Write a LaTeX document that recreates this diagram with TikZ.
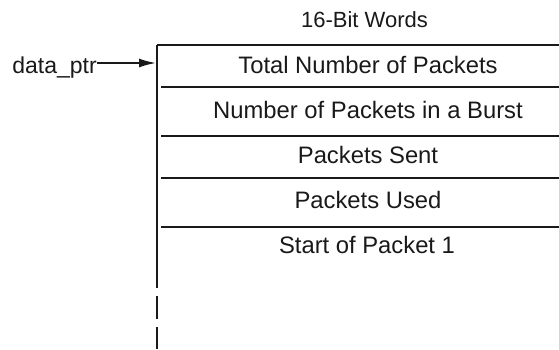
\documentclass[tikz,border=0pt]{standalone}
\usepackage{fontspec}
\setmainfont{Liberation Sans}
\usetikzlibrary{arrows.meta}
\begin{document}
\begin{tikzpicture}[x=1pt, y=-1pt,
  field/.style={anchor=base, inner sep=0pt, text=black!90, font=\fontsize{23.8}{28}\selectfont},
  rule/.style={line width=2.3pt, black!90}]
\useasboundingbox (0,0) rectangle (559,349);
% heading over the table
\node [field, font=\fontsize{22}{26}\selectfont] (words) at (364.5,27) {16-Bit Words};
% one field per row
\node [field] (total) at (368,73) {Total Number of Packets};
\node [field] (burst) at (368,118) {Number of Packets in a Burst};
\node [field] (sent) at (368,163) {Packets Sent};
\node [field] (used) at (368,208) {Packets Used};
\node [field] (start) at (367,253) {Start of Packet 1};
% table lines
\draw [line width=1.3pt, black!90] (157,45) -- (559,45);
\foreach \y in {87,136,178,227}
  \draw [rule] (161,\y) -- (559,\y);
\draw [rule] (157,44.5) -- (157,288);
\draw [rule, dash pattern=on 23pt off 8pt] (157,296) -- (157,349);
% pointer into the table
\node [field, font=\fontsize{23}{27}\selectfont, anchor=base east] (ptr) at (97,73) {data\_ptr};
\coordinate (head) at (156,63);
\draw [line width=1.8pt, black!90, -{Latex[length=17pt,width=9pt]}] (ptr.east |- head) -- (head);
\end{tikzpicture}
\end{document}
